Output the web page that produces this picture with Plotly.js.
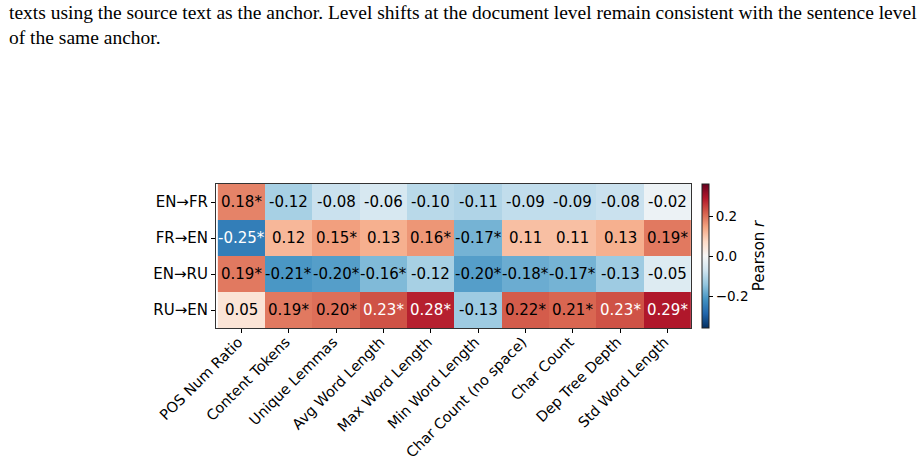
<!DOCTYPE html>
<html>
<head>
<meta charset="utf-8">
<script src="https://cdn.plot.ly/plotly-3.0.1.min.js"></script>
<style>
  html, body { margin: 0; padding: 0; background: #ffffff; }
  #chart { width: 920px; height: 463px; }
</style>
</head>
<body>
<div id="chart"></div>
<script>
// Translation directions (rows) and text features (columns)
const directions = ["EN→FR", "FR→EN", "EN→RU", "RU→EN"];
const features = [
  "POS Num Ratio", "Content Tokens", "Unique Lemmas", "Avg Word Length",
  "Max Word Length", "Min Word Length", "Char Count (no space)", "Char Count",
  "Dep Tree Depth", "Std Word Length"
];

// Pearson r per direction
const rEnFr = [0.18, -0.12, -0.08, -0.06, -0.10, -0.11, -0.09, -0.09, -0.08, -0.02];
const rFrEn = [-0.25, 0.12, 0.15, 0.13, 0.16, -0.17, 0.11, 0.11, 0.13, 0.19];
const rEnRu = [0.19, -0.21, -0.20, -0.16, -0.12, -0.20, -0.18, -0.17, -0.13, -0.05];
const rRuEn = [0.05, 0.19, 0.20, 0.23, 0.28, -0.13, 0.22, 0.21, 0.23, 0.29];

// Significance flags (1 = marked with *)
const sigEnFr = [1, 0, 0, 0, 0, 0, 0, 0, 0, 0];
const sigFrEn = [1, 0, 1, 0, 1, 1, 0, 0, 0, 1];
const sigEnRu = [1, 1, 1, 1, 0, 1, 1, 1, 0, 0];
const sigRuEn = [0, 1, 1, 1, 1, 0, 1, 1, 1, 1];

const cbTicks = [-0.2, 0.0, 0.2];
const cbTickText = ["−0.2", "0.0", "0.2"];

const zRows = [rEnFr, rFrEn, rEnRu, rRuEn];
const sigRows = [sigEnFr, sigFrEn, sigEnRu, sigRuEn];

// RdBu reversed
const rdbuR = [
  [0.0, "#053061"], [0.1, "#2166ac"], [0.2, "#4393c3"], [0.3, "#92c5de"],
  [0.4, "#d1e5f0"], [0.5, "#f7f7f7"], [0.6, "#fddbc7"], [0.7, "#f4a582"],
  [0.8, "#d6604d"], [0.9, "#b2182b"], [1.0, "#67001f"]
];
const vLim = 0.36;

const tickFont = { family: "DejaVu Sans", size: 15, color: "#000000" };

const cellLabels = [];
zRows.forEach((row, i) => {
  row.forEach((v, j) => {
    const txt = (v < 0 ? "-" : "") + Math.abs(v).toFixed(2) + (sigRows[i][j] ? "*" : "");
    cellLabels.push({
      x: features[j], y: directions[i], xref: "x", yref: "y",
      text: txt, showarrow: false,
      font: { family: "DejaVu Sans", size: 15, color: Math.abs(v) > 0.225 ? "#ffffff" : "#000000" }
    });
  });
});

// Paragraph text above the figure
const paraFont = { family: "Liberation Serif", size: 19.5, color: "#000000" };
const paragraph = [
  { text: "texts using the source text as the anchor. Level shifts at the document level remain consistent with the sentence level", y: 25 },
  { text: "of the same anchor.", y: 50 }
].map(p => ({
  xref: "paper", yref: "paper", x: -216 / 475, xshift: 7,
  y: 1 + (184 - p.y) / 144, yanchor: "bottom", xanchor: "left",
  text: p.text, showarrow: false, font: paraFont, align: "left"
}));

const trace = {
  type: "heatmap",
  x: features,
  y: directions,
  z: zRows,
  zmin: -vLim, zmax: vLim,
  colorscale: rdbuR,
  hoverinfo: "skip",
  colorbar: {
    x: 1.0225, xanchor: "left", xref: "paper",
    y: 0.5, yanchor: "middle", len: 1, lenmode: "fraction",
    xpad: 0, ypad: 0,
    thickness: 7,
    outlinewidth: 1, outlinecolor: "#222222",
    tickmode: "array", tickvals: cbTicks, ticktext: cbTickText,
    ticks: "outside", ticklen: 4, tickwidth: 1, tickcolor: "#000000",
    tickfont: { family: "DejaVu Sans", size: 13.5, color: "#000000" },
    title: { text: "Pearson <i>r</i>", side: "right", font: { family: "DejaVu Sans", size: 15, color: "#000000" } }
  }
};

const layout = {
  width: 920, height: 463,
  margin: { l: 216, r: 229, t: 184, b: 135, pad: 0 },
  paper_bgcolor: "#ffffff", plot_bgcolor: "#ffffff",
  xaxis: {
    type: "category", categoryorder: "array", categoryarray: features,
    tickangle: -45, ticks: "outside", ticklen: 4, tickwidth: 1, tickcolor: "#000000",
    ticklabelstandoff: -5, ticklabelshift: -3,
    tickfont: { family: "DejaVu Sans", size: 14.5, color: "#000000" },
    showgrid: false, zeroline: false,
    showline: true, mirror: true, linecolor: "#333333", linewidth: 1
  },
  yaxis: {
    type: "category", categoryorder: "array", categoryarray: directions,
    autorange: "reversed",
    ticks: "outside", ticklen: 4, tickwidth: 1, tickcolor: "#000000",
    tickfont: tickFont, showgrid: false, zeroline: false,
    showline: true, mirror: true, linecolor: "#333333", linewidth: 1
  },
  annotations: cellLabels.concat(paragraph),
  showlegend: false
};

Plotly.newPlot("chart", [trace], layout, { displayModeBar: false, staticPlot: true });
</script>
</body>
</html>
